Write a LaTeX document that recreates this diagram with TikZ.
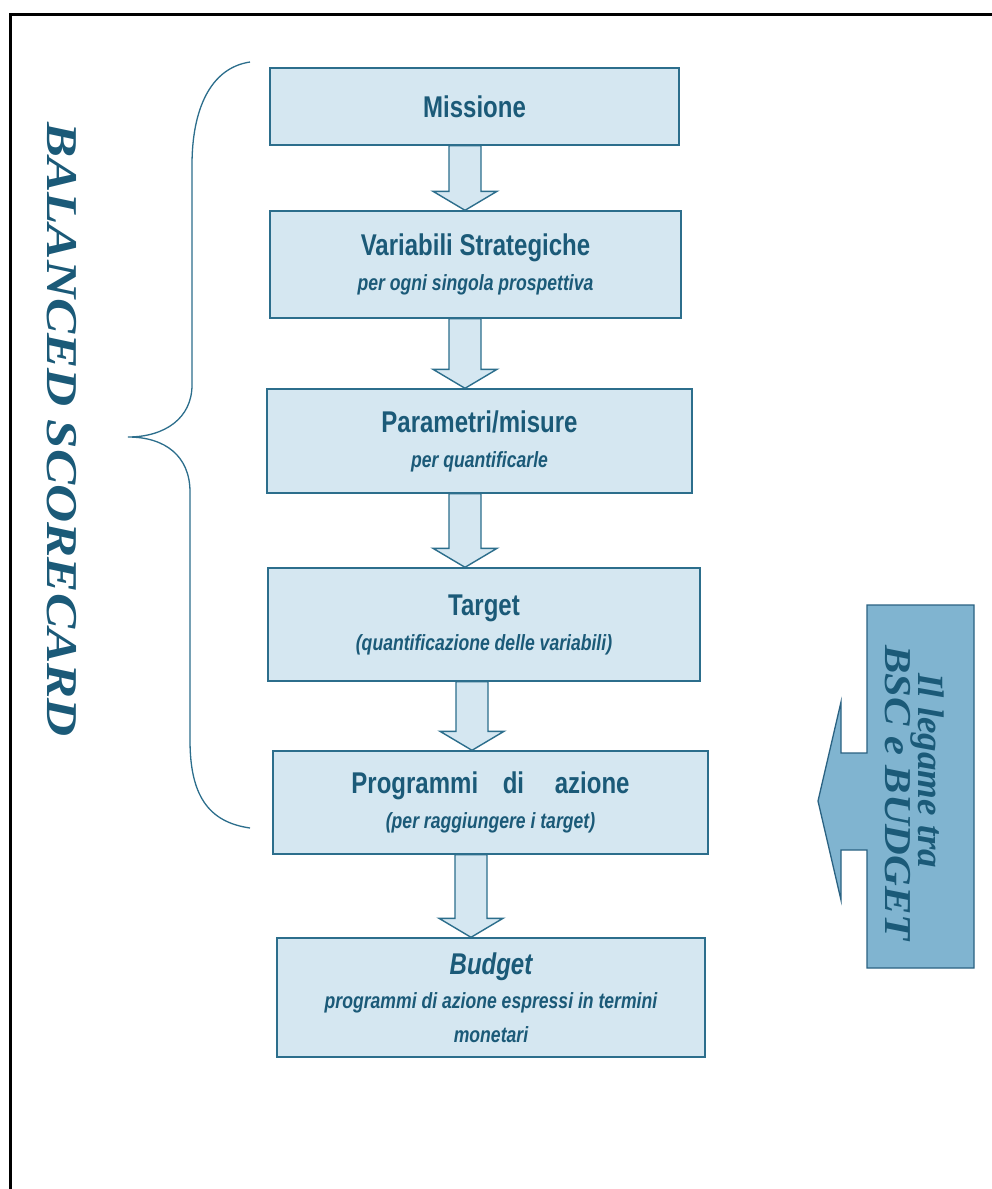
\documentclass[tikz,border=0pt]{standalone}
\usepackage{fontspec}
\setmainfont{Liberation Serif}
\newfontfamily\boxfont{Liberation Sans}[FakeStretch=0.8]
\newfontfamily\widefont{Liberation Serif}[FakeStretch=1.2]
\newfontfamily\linkwide{Liberation Serif}[FakeStretch=1.12]
\usetikzlibrary{calc}

\definecolor{boxfill}{HTML}{D5E7F1}
\definecolor{boxline}{HTML}{2C6E8C}
\definecolor{ink}{HTML}{1B5A78}
\definecolor{linkfill}{HTML}{80B4D0}
\definecolor{linkline}{HTML}{2A6282}

\newcommand\titletext{\boxfont\fontsize{30}{35}\selectfont\bfseries}
\newcommand\subtext{\boxfont\fontsize{22}{35}\selectfont\bfseries\itshape}

% hollow block arrow between two stacked boxes, centred on x = #3 (px)
\newcommand\flowarrow[3]{%
  \path[flowarrow] let \p1=(#1.south), \p2=(#2.north), \p3=(#3,0) in
    (\x3-16pt,\y1) -- (\x3-16pt,\y2+19pt) -- (\x3-32pt,\y2+19pt) -- (\x3,\y2)
    -- (\x3+32pt,\y2+19pt) -- (\x3+16pt,\y2+19pt) -- (\x3+16pt,\y1) -- cycle;}

\tikzset{
  stepbox/.style={draw=boxline, line width=1.4pt, fill=boxfill, inner sep=0pt,
    align=center, text=ink, font=\fontsize{22}{35}\selectfont},
  flowarrow/.style={draw=boxline, line width=1.4pt, fill=boxfill},
  sidetext/.style={text=ink, rotate=-90, anchor=base west, inner sep=0pt},
}

\begin{document}
\begin{tikzpicture}[x=1pt, y=-1pt]
  \useasboundingbox (0,0) rectangle (992,1189);
  \fill[white] (0,0) rectangle (992,1189);

  % page frame (only top and left edges fall inside)
  \draw[line width=3pt, black] (10,1189) -- (10,14) -- (992,14);

  % flow boxes
  \node[stepbox, minimum width=409pt, minimum height=77pt] (mis) at (474.5,106.5)
    {\titletext Missione};
  \node[stepbox, minimum width=411pt, minimum height=107pt] (var) at (475.5,264.5)
    {\titletext Variabili Strategiche\\ \subtext per ogni singola prospettiva};
  \node[stepbox, minimum width=425pt, minimum height=104pt] (par) at (479.5,441)
    {\titletext Parametri/misure\\ \subtext per quantificarle};
  \node[stepbox, minimum width=432pt, minimum height=113pt] (tar) at (484,624.5)
    {\titletext Target\\ \subtext (quantificazione delle variabili)};
  \node[stepbox, minimum width=435pt, minimum height=103pt] (pro) at (490.5,802.5)
    {\titletext Programmi\hspace{0.6em} di\hspace{0.8em} azione\\ \subtext (per raggiungere i target)};
  \node[stepbox, minimum width=428pt, minimum height=119pt,
        font=\fontsize{22}{34}\selectfont] (bud) at (491,997.5)
    {\titletext\itshape Budget\\
     \subtext programmi di azione espressi in termini\\ \subtext monetari};

  % arrows between the boxes
  \flowarrow{mis}{var}{465}
  \flowarrow{var}{par}{465}
  \flowarrow{par}{tar}{465}
  \flowarrow{tar}{pro}{472}
  \flowarrow{pro}{bud}{471}

  % curly brace grouping the scorecard steps
  \draw[boxline, line width=1.3pt]
    (250,62) .. controls (210,68) and (192,110) .. (192,165) -- (192,385)
    .. controls (192,418) and (165,437) .. (128,437)
    .. controls (165,437) and (190,456) .. (190,492) -- (190,740)
    .. controls (190,795) and (208,822) .. (250,828);
  \node[sidetext, font=\widefont\fontsize{44}{48}\selectfont\bfseries\itshape]
    (bsc) at (47,122) {BALANCED SCORECARD};

  % side panel with left-pointing arrow
  \path[draw=linkline, line width=1.3pt, fill=linkfill]
    (974,605) -- (867,605) -- (867,753) -- (841,753) -- (841,702) -- (818,801)
    -- (841,900) -- (841,850) -- (867,850) -- (867,968) -- (974,968) -- cycle;
  \node[sidetext, font=\fontsize{37}{40}\selectfont\bfseries\itshape]
    (link1) at (918,673) {Il legame tra};
  \node[sidetext, font=\linkwide\fontsize{38}{40}\selectfont\bfseries\itshape]
    (link2) at (885,645) {BSC e BUDGET};
\end{tikzpicture}
\end{document}
